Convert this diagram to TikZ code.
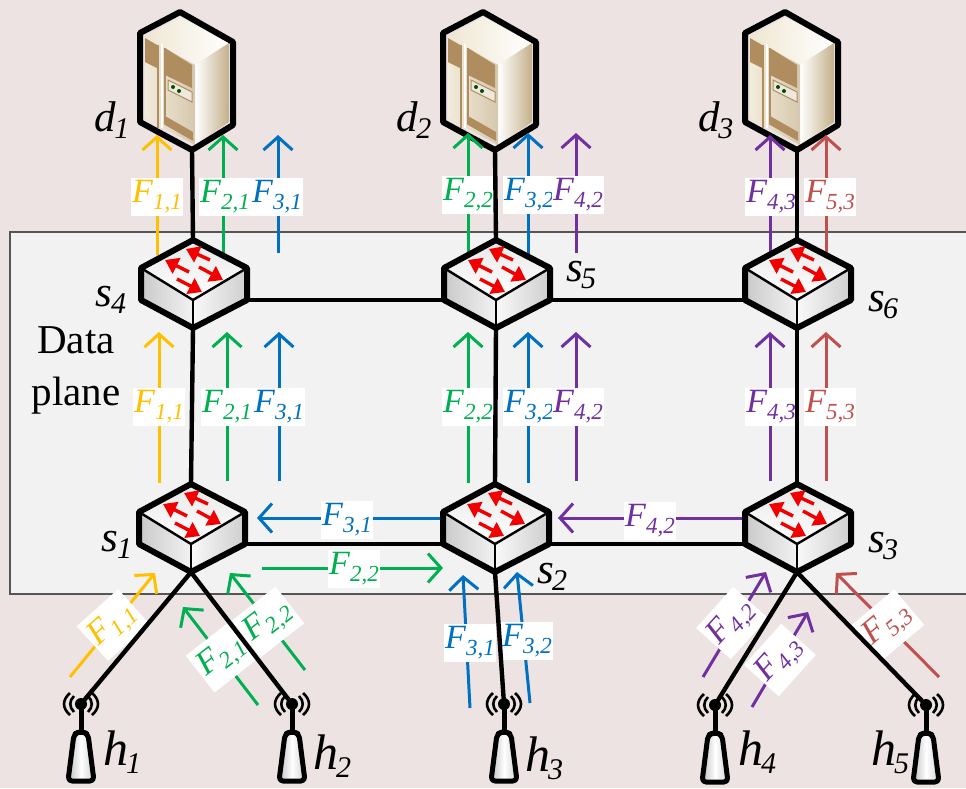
\documentclass[tikz,border=0pt]{standalone}
\usepackage{fontspec}
\setmainfont{Liberation Serif}
\usetikzlibrary{arrows.meta}
\definecolor{bgpink}{HTML}{EDE3E3}
\definecolor{planefill}{HTML}{F2F2F2}
\definecolor{planeline}{HTML}{555555}
\definecolor{cyellow}{HTML}{FFC000}
\definecolor{cgreen}{HTML}{00B050}
\definecolor{cblue}{HTML}{0070C0}
\definecolor{cpurple}{HTML}{7030A0}
\definecolor{cred}{HTML}{C0504D}
\definecolor{cbrown}{HTML}{B08D5F}
\definecolor{ccream}{HTML}{EFE7D2}
\definecolor{ctan}{HTML}{C4B08A}
\tikzset{
  x=1pt,y=-1pt,
  link/.style={line width=4.4pt,black,line cap=round},
  flowarrow/.style={line width=3pt,-{Straight Barb[length=13pt,width=29pt,line width=3pt]}},
  flowlab/.style={fill=white,inner xsep=1.5pt,inner ysep=2.5pt,font=\fontsize{34}{34}\selectfont\itshape},
  devlab/.style={inner sep=0pt,font=\fontsize{43}{43}\selectfont\itshape,text=black},
  hostlab/.style={inner sep=0pt,font=\fontsize{50}{50}\selectfont\itshape,text=black},
  outline/.style={line width=6pt,black,line join=round},
  redarrow/.style={line width=3.4pt,red!95!black,-{Triangle[length=13pt,width=17pt]}},
  anchorbox/.style={inner sep=0pt,minimum width=106pt,minimum height=88pt}
}
\newcommand{\Fl}[2]{F\raisebox{-0.2em}{\fontsize{23}{23}\selectfont #1,#2}}
\newcommand{\Dl}[2]{#1\raisebox{-0.16em}{\kern-0.04em\fontsize{30}{30}\selectfont #2}}
\newcommand{\flow}[9]{%
  \coordinate (#1-a) at (#3,#4);
  \coordinate (#1-b) at (#5,#6);
  \draw[flowarrow,#2] (#1-a) -- (#1-b);
  \flowlabel{#1}{#2}{#7}{#8}{#9}}
\newcommand{\flowlabel}[5]{\ifnum#5=0\relax
    \node[flowlab,text=#2] (#1-l) at (#3,#4) {\flowtext};
  \else
    \node[flowlab,text=#2,rotate=#5,inner ysep=7pt,inner xsep=3pt] (#1-l) at (#3,#4) {\flowtext};
  \fi}
\newcommand{\flowtext}{}
\newcommand{\fl}[3]{\renewcommand{\flowtext}{\Fl{#2}{#3}}\flow{#1}}
\newcommand{\switchbox}[3]{%
  \node[anchorbox] (#1) at (#2,#3) {};
  \coordinate (#1-l) at (#2-52,#3+16);
  \coordinate (#1-r) at (#2+54,#3+16);
  \begin{scope}[shift={(#2,#3)}]
    \shade[left color=gray!42,right color=gray!10] (-52,-16) -- (0,16) -- (0,44) -- (-52,16) -- cycle;
    \shade[left color=gray!5,right color=gray!38] (0,16) -- (54,-16) -- (54,16) -- (0,44) -- cycle;
    \shade[top color=gray!18,bottom color=white] (0,-44) -- (-52,-16) -- (0,16) -- (54,-16) -- cycle;
    \draw[outline,line width=2.4pt] (-52,-16) -- (0,16) -- (54,-16);
    \draw[outline,line width=2.6pt] (0,16) -- (0,44);
    \draw[outline] (0,-44) -- (-52,-16) -- (-52,16) -- (0,44) -- (54,16) -- (54,-16) -- cycle;
    \draw[redarrow] (17,-24) -- (-7,-35);
    \draw[redarrow] (-4,-12) -- (-28,-24);
    \draw[redarrow] (6,-17) -- (30,-4);
    \draw[redarrow] (-16,-5) -- (9,8);
  \end{scope}}
\newcommand{\serverbox}[2]{%
  \begin{scope}[shift={(#2,0)}]
    \node[inner sep=0pt,minimum size=0pt] (#1) at (192,150) {};
    \shade[left color=ccream,right color=white] (180,17) -- (145,37) -- (195,65) -- (229,43) -- cycle;
    \shade[left color=white,right color=ctan] (195,65) -- (229,43) -- (229,122) -- (195,145) -- cycle;
    \shade[left color=ccream!80!white,right color=ctan!70] (145,37) -- (195,65) -- (195,145) -- (145,118) -- cycle;
    \fill[cbrown] (145,38) -- (157,45) -- (157,68) -- (145,62) -- cycle;
    \fill[cbrown] (165,48) -- (192,65) -- (192,88) -- (165,75) -- cycle;
    \draw[cbrown,line width=1.6pt] (158,45) -- (158,128);
    \draw[white,line width=2.8pt] (162,44) -- (162,128);
    \draw[cbrown,line width=1.6pt] (165,48) -- (165,124) -- (193,140);
    \fill[cbrown] (165,116) -- (193,132) -- (193,140) -- (165,124) -- cycle;
    \fill[white!80!cbrown,draw=cbrown,line width=1pt] (168,80) -- (192,92) -- (192,102) -- (168,90) -- cycle;
    \fill[black!70!green] (173,87) circle (2);
    \fill[black!70!green] (179,91) circle (2);
    \draw[outline] (180,12) -- (140,33) -- (140,122) -- (162,134) -- (192,150) -- (233,125) -- (233,42) -- cycle;
  \end{scope}}
\newcommand{\hostbox}[3]{%
  \begin{scope}[shift={(#2,#3)}]
    \node[circle,fill=black,inner sep=0pt,minimum size=12pt] (#1) at (0,0) {};
    \draw[line width=5pt] (0,0) -- (0,30);
    \shade[left color=gray!50,right color=gray!35,middle color=white] (-8,29) -- (8,29) -- (13,77) -- (-13,77) -- cycle;
    \draw[line width=5pt,line join=round,rounded corners=4pt] (-7,30) -- (-2,28) -- (2,28) -- (7,30) -- (13,77) -- (-13,77) -- cycle;
    \draw[line width=2.6pt] (-11,-11) .. controls (-19,-4) and (-19,4) .. (-11,11);
    \draw[line width=2.6pt] (-7,-8) .. controls (-12,-3) and (-12,3) .. (-7,8);
    \draw[line width=2.6pt] (11,-11) .. controls (19,-4) and (19,4) .. (11,11);
    \draw[line width=2.6pt] (7,-8) .. controls (12,-3) and (12,3) .. (7,8);
  \end{scope}}
\begin{document}
\begin{tikzpicture}
\useasboundingbox (0,0) rectangle (966,788);
\fill[bgpink] (0,0) rectangle (966,788);
\draw[planeline,line width=2.4pt,fill=planefill] (10,232) rectangle (975,594);
\node[inner sep=0pt,align=center,font=\fontsize{41}{52}\selectfont] (plane) at (76,370) {Data\\plane};

\serverbox{d1}{0}
\serverbox{d2}{303}
\serverbox{d3}{605}

\fl{f1}{1}{1}{cyellow}{157}{255}{157}{135}{157}{197}{0}
\fl{f2}{2}{1}{cgreen}{223}{255}{223}{135}{225}{197}{0}
\fl{f3}{3}{1}{cblue}{278}{253}{278}{135}{277}{197}{0}
\fl{f4}{2}{2}{cgreen}{468}{255}{468}{133}{468}{195}{0}
\fl{f5}{3}{2}{cblue}{528}{255}{528}{133}{529}{195}{0}
\fl{f6}{4}{2}{cpurple}{576}{253}{576}{133}{578}{195}{0}
\fl{f7}{4}{3}{cpurple}{770}{255}{770}{135}{771}{197}{0}
\fl{f8}{5}{3}{cred}{826}{255}{826}{135}{830}{197}{0}
\fl{f9}{1}{1}{cyellow}{159}{483}{159}{332}{159}{407}{0}
\fl{f10}{2}{1}{cgreen}{227}{481}{227}{332}{227}{407}{0}
\fl{f11}{3}{1}{cblue}{279}{481}{279}{332}{279}{407}{0}
\fl{f12}{2}{2}{cgreen}{468}{483}{468}{332}{468}{407}{0}
\fl{f13}{3}{2}{cblue}{528}{483}{528}{332}{529}{407}{0}
\fl{f14}{4}{2}{cpurple}{576}{481}{576}{332}{578}{407}{0}
\fl{f15}{4}{3}{cpurple}{770}{481}{770}{332}{771}{407}{0}
\fl{f16}{5}{3}{cred}{826}{481}{826}{332}{830}{407}{0}
\fl{f17}{3}{1}{cblue}{440}{518}{257}{518}{347}{520}{0}
\fl{f18}{4}{2}{cpurple}{742}{518}{558}{518}{650}{521}{0}
\fl{f19}{2}{2}{cgreen}{262}{568}{443}{568}{354}{569}{0}
\fl{f20}{1}{1}{cyellow}{70}{677}{155}{573}{113}{625}{42}
\fl{f21}{2}{1}{cgreen}{258}{705}{183}{607}{222}{657}{38}
\fl{f22}{2}{2}{cgreen}{305}{670}{230}{573}{268}{622}{38}
\fl{f23}{3}{1}{cblue}{470}{708}{463}{575}{470}{643}{0}
\fl{f24}{3}{2}{cblue}{530}{703}{517}{572}{527}{641}{0}
\fl{f25}{4}{2}{cpurple}{703}{677}{766}{572}{732}{623}{48}
\fl{f26}{4}{3}{cpurple}{752}{707}{808}{612}{780}{660}{48}
\fl{f27}{5}{3}{cred}{939}{677}{836}{573}{888}{625}{40}

\switchbox{s4}{193}{284}
\switchbox{s5}{496}{284}
\switchbox{s6}{797}{284}
\switchbox{s1}{191}{528}
\switchbox{s2}{495}{528}
\switchbox{s3}{797}{528}
\hostbox{h1}{81}{704}
\hostbox{h2}{292}{704}
\hostbox{h3}{504}{704}
\hostbox{h4}{715}{705}
\hostbox{h5}{926}{705}

\draw[link] (d1) -- (s4.north);
\draw[link] (d2) -- (s5.north);
\draw[link] (d3) -- (s6.north);
\draw[link] (s4.south) -- (s1.north);
\draw[link] (s5.south) -- (s2.north);
\draw[link] (s6.south) -- (s3.north);
\draw[link] (s4-r) -- (s5-l);
\draw[link] (s5-r) -- (s6-l);
\draw[link] (s1-r) -- (s2-l);
\draw[link] (s2-r) -- (s3-l);
\draw[link] (s1.south) -- (h1);
\draw[link] (s1.south) -- (h2);
\draw[link] (s2.south) -- (h3);
\draw[link] (s3.south) -- (h4);
\draw[link] (s3.south) -- (h5);

\node[devlab] (ld1) at (112,120) {\Dl{d}{1}};
\node[devlab] (ld2) at (414,120) {\Dl{d}{2}};
\node[devlab] (ld3) at (716,120) {\Dl{d}{3}};
\node[devlab] (ls4) at (111,300) {\Dl{s}{4}};
\node[devlab] (ls5) at (581,275) {\Dl{s}{5}};
\node[devlab] (ls6) at (883,305) {\Dl{s}{6}};
\node[devlab] (ls1) at (117,545) {\Dl{s}{1}};
\node[devlab] (ls2) at (552,577) {\Dl{s}{2}};
\node[devlab] (ls3) at (883,546) {\Dl{s}{3}};
\node[hostlab] (lh1) at (122,752) {\Dl{h}{1}};
\node[hostlab] (lh2) at (332,756) {\Dl{h}{2}};
\node[hostlab] (lh3) at (544,758) {\Dl{h}{3}};
\node[hostlab] (lh4) at (757,752) {\Dl{h}{4}};
\node[hostlab] (lh5) at (890,752) {\Dl{h}{5}};
\end{tikzpicture}
\end{document}
